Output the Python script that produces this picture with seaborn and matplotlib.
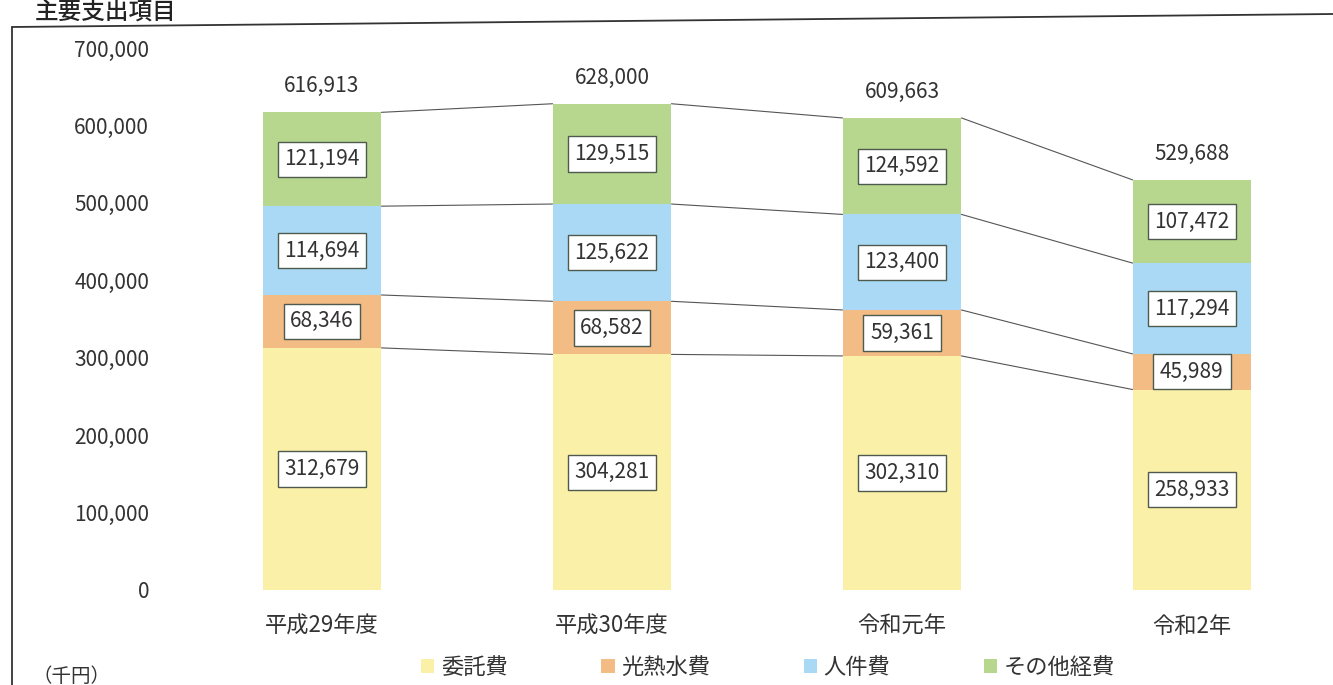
import numpy as np
import pandas as pd
import matplotlib
matplotlib.use("Agg")
import matplotlib.pyplot as plt
from matplotlib.lines import Line2D
from matplotlib.patches import Patch
import seaborn as sns

# ---- data (千円) ----
years = ["平成29年度", "平成30年度", "令和元年", "令和2年"]
itaku = [312679, 304281, 302310, 258933]      # 委託費
kounetsu = [68346, 68582, 59361, 45989]       # 光熱水費
jinken = [114694, 125622, 123400, 117294]     # 人件費
sonota = [121194, 129515, 124592, 107472]     # その他経費
series_names = ["委託費", "光熱水費", "人件費", "その他経費"]
series_colors = ["#FBF0A8", "#F2BC84", "#A9D9F4", "#B7D78E"]
y_ticks = [0, 100000, 200000, 300000, 400000, 500000, 600000, 700000]

sns.set_theme(style="white")
plt.rcParams["font.family"] = ["Noto Sans CJK JP", "DejaVu Sans"]
text_color = "#333333"

values = np.array([itaku, kounetsu, jinken, sonota])
cum = np.cumsum(values, axis=0)
totals = cum[-1]

fig = plt.figure(figsize=(13.33, 6.85), dpi=100)
W, H = 1333, 685
ax = fig.add_axes([177 / W, (H - 590) / H, 1160 / W, (590 - 48) / H])

bar_w = 0.41
# draw stacks from the top segment down so each lower segment overlays the one above
for k in range(len(series_names) - 1, -1, -1):
    df = pd.DataFrame({"year": years, "value": cum[k]})
    sns.barplot(data=df, x="year", y="value", color=series_colors[k],
                width=bar_w, saturation=1, ax=ax, edgecolor="none")

# series lines joining segment boundaries between neighbouring bars
for k in range(len(series_names)):
    for i in range(len(years) - 1):
        ax.add_line(Line2D([i + bar_w / 2, i + 1 - bar_w / 2],
                           [cum[k][i], cum[k][i + 1]],
                           color="#555555", lw=0.8, zorder=3))

# value labels inside the segments
for k in range(len(series_names)):
    for i in range(len(years)):
        mid = cum[k][i] - values[k][i] / 2
        ax.text(i, mid, f"{values[k][i]:,}", ha="center", va="center",
                fontsize=15, color=text_color, zorder=5,
                bbox=dict(boxstyle="square,pad=0.32", fc="white",
                          ec="#4d5a4d", lw=1.0))

# totals above the bars
for i, t in enumerate(totals):
    ax.annotate(f"{t:,}", (i, t), xytext=(0, 11), textcoords="offset points",
                ha="center", va="bottom", fontsize=15, color=text_color)

ax.set_xlim(-0.5, 3.5)
ax.set_ylim(0, 700000)
ax.set_yticks(y_ticks)
ax.set_yticklabels([f"{v:,}" for v in y_ticks], fontsize=15, color=text_color)
ax.tick_params(axis="y", length=0, pad=20)
ax.tick_params(axis="x", length=0, pad=18, labelsize=16, labelcolor=text_color)
ax.set_xlabel("")
ax.set_ylabel("")
for s in ax.spines.values():
    s.set_visible(False)
ax.grid(False)
ax.set_facecolor("none")

# outer frame
fig.add_artist(Line2D([12 / W, 12 / W], [0, 1 - 27 / H], color="#333333", lw=1.3))
fig.add_artist(Line2D([12 / W, 1], [1 - 27 / H, 1 - 14 / H], color="#333333", lw=1.3))

fig.text(35 / W, 1 - 1 / H, "主要支出項目", fontsize=17, color="#222222",
         ha="left", va="top", fontweight="medium")
fig.text(32 / W, 1 - 676 / H, "（千円）", fontsize=14, color=text_color,
         ha="left", va="center")

handles = [Patch(facecolor=c, edgecolor="none") for c in series_colors]
fig.legend(handles, series_names, loc="center", bbox_to_anchor=(768 / W, 1 - 667 / H),
           ncol=4, frameon=False, fontsize=16, handlelength=0.6, handleheight=0.6,
           handletextpad=0.3, columnspacing=4.2, labelcolor=text_color)

fig.savefig("out.png", dpi=100)
